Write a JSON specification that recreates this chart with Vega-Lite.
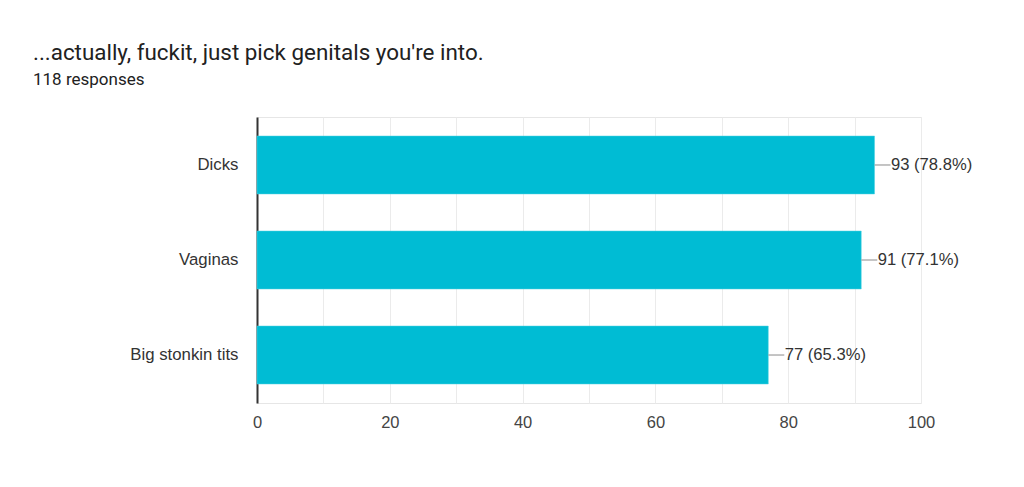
{
  "$schema": "https://vega.github.io/schema/vega-lite/v6.json",
  "autosize": "none",
  "width": 664,
  "height": 286,
  "padding": {"left": 257, "top": 117, "right": 103, "bottom": 84},
  "background": "white",
  "config": {
    "font": "Roboto",
    "view": {"stroke": "#e6e6e6", "strokeWidth": 1}
  },
  "title": {
    "text": "...actually, fuckit, just pick genitals you're into.",
    "subtitle": "118 responses",
    "anchor": "start",
    "frame": "group",
    "dx": -224,
    "offset": 29,
    "font": "Roboto",
    "fontSize": 22.4,
    "fontWeight": "normal",
    "color": "#212121",
    "subtitleFont": "Roboto",
    "subtitleFontSize": 17,
    "subtitleColor": "#212121",
    "subtitlePadding": 8
  },
  "data": {
    "values": [
      {"answer": "Dicks", "count": 93, "label": "93 (78.8%)"},
      {"answer": "Vaginas", "count": 91, "label": "91 (77.1%)"},
      {"answer": "Big stonkin tits", "count": 77, "label": "77 (65.3%)"}
    ]
  },
  "encoding": {
    "y": {
      "field": "answer",
      "type": "nominal",
      "sort": null,
      "scale": {"paddingInner": 0.39, "paddingOuter": 0.2},
      "axis": {
        "title": null,
        "ticks": false,
        "labelPadding": 19,
        "labelFontSize": 16.8,
        "labelColor": "#333333",
        "labelFont": "Liberation Sans",
        "domainColor": "#333333",
        "domainWidth": 2,
        "grid": false
      }
    }
  },
  "layer": [
    {
      "mark": {"type": "bar", "color": "#00bcd4", "stroke": "#4dd0e1", "strokeWidth": 0.5},
      "encoding": {
        "x": {
          "field": "count",
          "type": "quantitative",
          "scale": {"domain": [0, 100], "nice": false},
          "axis": {
            "title": null,
            "values": [0, 10, 20, 30, 40, 50, 60, 70, 80, 90, 100],
            "labelExpr": "datum.value % 20 == 0 ? datum.label : ''",
            "labelFlush": false,
            "ticks": false,
            "labelPadding": 11,
            "labelFontSize": 16.5,
            "labelColor": "#444444",
            "labelFont": "Liberation Sans",
            "domain": false,
            "grid": true,
            "gridColor": "#ebebeb",
            "gridWidth": 1
          }
        }
      }
    },
    {
      "mark": {"type": "rule", "color": "#9e9e9e", "strokeWidth": 1.2, "x2Offset": 16},
      "encoding": {
        "x": {"field": "count", "type": "quantitative"},
        "x2": {"field": "count"}
      }
    },
    {
      "mark": {"type": "text", "align": "left", "baseline": "middle", "dx": 16.5, "fontSize": 16.6, "color": "#333333", "font": "Liberation Sans"},
      "encoding": {
        "x": {"field": "count", "type": "quantitative"},
        "text": {"field": "label"}
      }
    }
  ]
}
